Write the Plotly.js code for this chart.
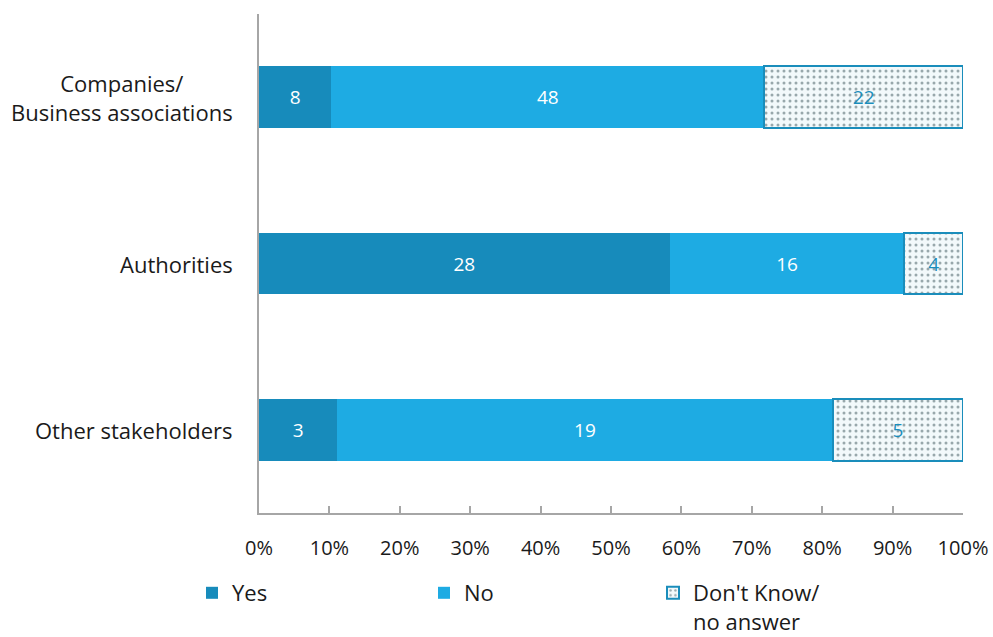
<!DOCTYPE html>
<html>
<head>
<meta charset="utf-8">
<script src="https://cdn.plot.ly/plotly-3.0.1.min.js"></script>
<style>html,body{margin:0;padding:0;background:#fff;}#chart{width:993px;height:637px;}</style>
</head>
<body>
<div id="chart"></div>
<script>
const categories = ["Companies/<br>Business associations", "Authorities", "Other stakeholders"];
const yesValues = [8, 28, 3];
const noValues = [48, 16, 19];
const dkValues = [22, 4, 5];
const seriesNames = ["Yes", "No", "Don't Know/<br>no answer"];
const xTickVals = [0, 10, 20, 30, 40, 50, 60, 70, 80, 90, 100];
const xTickText = xTickVals.map(v => v + '%');

const FONT = "Open Sans, Noto Sans, DejaVu Sans, sans-serif";
const barWidth = 0.37;

function barTrace(name, vals, color, textColor, legendId, extra) {
  return Object.assign({
    type: 'bar', orientation: 'h', name: name,
    y: categories, x: vals, text: vals.map(String),
    texttemplate: '%{text}', textposition: 'inside', insidetextanchor: 'middle',
    textfont: {color: textColor, size: 19, family: FONT},
    marker: {color: color, line: {width: 0}},
    width: barWidth, hoverinfo: 'none', legend: legendId
  }, extra || {});
}

const traces = [
  barTrace(seriesNames[0], yesValues, '#178bbb', '#ffffff', 'legend'),
  barTrace(seriesNames[1], noValues, '#1eabe3', '#ffffff', 'legend2'),
  barTrace(seriesNames[2], dkValues, '#f2f9fb', '#1a8dbb', 'legend3', {
    marker: {
      color: '#f2f9fb',
      line: {color: '#1a8dbb', width: 2},
      pattern: {shape: '.', fgcolor: '#98a8ac', bgcolor: '#f2f9fb', size: 6, solidity: 0.2, fillmode: 'replace'}
    }
  })
];

const annotations = categories.map(c => ({
  xref: 'paper', yref: 'y', x: 0, y: c, xanchor: 'right', yanchor: 'middle',
  xshift: -24, text: c, showarrow: false, align: 'center',
  font: {size: 22, color: '#1a1a1a', family: FONT}
}));

function legendBox(xpx) {
  return {
    orientation: 'v', xref: 'container', yref: 'container',
    x: xpx / 993, y: 1 - 572 / 637, xanchor: 'left', yanchor: 'top',
    font: {size: 22, color: '#1a1a1a', family: FONT},
    bgcolor: 'rgba(0,0,0,0)', borderwidth: 0,
    itemclick: false, itemdoubleclick: false, valign: 'top'
  };
}

const layout = {
  width: 993, height: 637,
  margin: {l: 259, r: 30, t: 14, b: 124, autoexpand: false},
  barmode: 'stack', barnorm: 'percent',
  paper_bgcolor: '#ffffff', plot_bgcolor: '#ffffff',
  font: {family: FONT, color: '#1a1a1a', size: 20},
  showlegend: true,
  annotations: annotations,
  xaxis: {
    range: [0, 100], tickmode: 'array', tickvals: xTickVals, ticktext: xTickText,
    showgrid: false, zeroline: false, tickangle: 0, automargin: false,
    showline: true, linecolor: '#a6a6a6', linewidth: 2,
    ticks: 'inside', ticklen: 7, tickwidth: 2, tickcolor: '#a6a6a6',
    ticklabelstandoff: 16,
    tickfont: {size: 20, color: '#1a1a1a', family: FONT},
    fixedrange: true
  },
  yaxis: {
    autorange: 'reversed', type: 'category', automargin: false,
    showgrid: false, zeroline: false, showticklabels: false,
    showline: true, linecolor: '#a6a6a6', linewidth: 2,
    ticks: '', fixedrange: true
  },
  legend: legendBox(192),
  legend2: legendBox(424),
  legend3: legendBox(653)
};

Plotly.newPlot('chart', traces, layout, {displayModeBar: false, staticPlot: true});
</script>
</body>
</html>
